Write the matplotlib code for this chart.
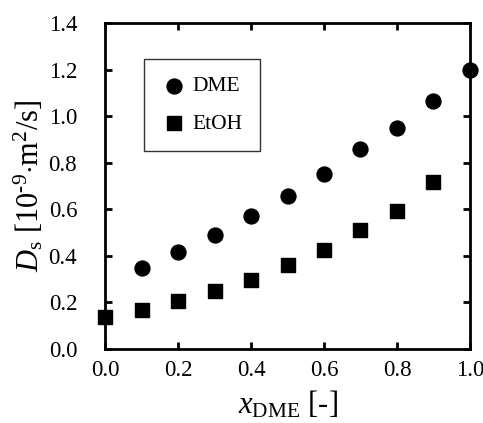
import matplotlib
matplotlib.use("Agg")
import matplotlib.pyplot as plt

# mole fraction of DME and self-diffusion coefficients
x_dme = [0.1, 0.2, 0.3, 0.4, 0.5, 0.6, 0.7, 0.8, 0.9, 1.0]
ds_dme = [0.346, 0.415, 0.489, 0.572, 0.657, 0.753, 0.857, 0.950, 1.065, 1.198]
x_etoh = [0.0, 0.1, 0.2, 0.3, 0.4, 0.5, 0.6, 0.7, 0.8, 0.9]
ds_etoh = [0.139, 0.167, 0.207, 0.250, 0.296, 0.361, 0.425, 0.510, 0.591, 0.718]

xticks = [0.0, 0.2, 0.4, 0.6, 0.8, 1.0]
yticks = [0.0, 0.2, 0.4, 0.6, 0.8, 1.0, 1.2, 1.4]

plt.rcParams['font.family'] = ['Liberation Serif', 'DejaVu Serif']
plt.rcParams['mathtext.fontset'] = 'custom'
plt.rcParams['mathtext.rm'] = 'Liberation Serif'
plt.rcParams['mathtext.it'] = 'Liberation Serif:italic'

fig = plt.figure(figsize=(4.83, 4.23), dpi=100)
ax = fig.add_axes([105 / 483, 1 - 349 / 423, 365 / 483, 326 / 423])

ax.scatter(x_dme, ds_dme, s=115, marker='o', color='black', label='DME',
           clip_on=False, zorder=3)
ax.scatter(x_etoh, ds_etoh, s=100, marker='s', color='black', label='EtOH',
           clip_on=False, zorder=3)

ax.set_xlim(0, 1.0)
ax.set_ylim(0, 1.4)
ax.set_xticks(xticks)
ax.set_yticks(yticks)
ax.set_xticklabels([f"{v:.1f}" for v in xticks])
ax.set_yticklabels([f"{v:.1f}" for v in yticks])
ax.tick_params(direction='in', length=5, width=2, labelsize=16.5,
               top=True, right=True)
ax.tick_params(axis='x', pad=8)
ax.tick_params(axis='y', pad=20)
for sp in ax.spines.values():
    sp.set_linewidth(2)

ax.set_xlabel(r'$x_{\mathrm{DME}}$ [-]', fontsize=22, labelpad=6)
ax.set_ylabel('$D_{\\mathrm{s}}$ [10$^{\\mathrm{\u20109}}$$\\cdot$m$^{\\mathrm{2}}$/s]',
              fontsize=22, labelpad=2)

leg = ax.legend(loc='upper left', bbox_to_anchor=(0.107, 0.8896), fontsize=15.5,
                frameon=True, fancybox=False, edgecolor='black',
                borderpad=0.8, labelspacing=0.82, handlelength=1.15,
                handletextpad=0.3, borderaxespad=0)
leg.get_frame().set_linewidth(1)

fig.savefig('out.png', dpi=100)
